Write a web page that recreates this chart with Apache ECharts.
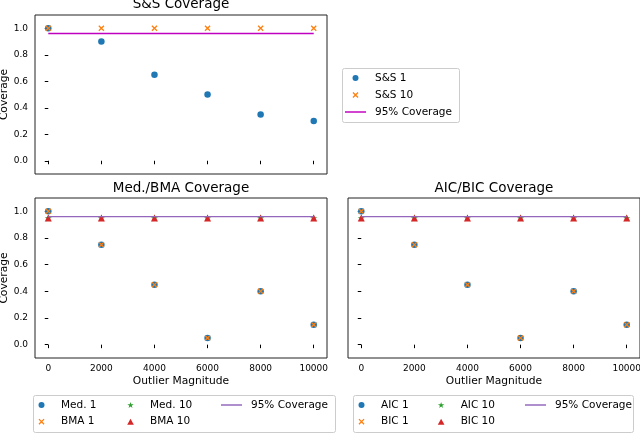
<!DOCTYPE html>
<html>
<head>
<meta charset="utf-8">
<script src="https://cdn.jsdelivr.net/npm/echarts@6/dist/echarts.min.js"></script>
<style>
html,body{margin:0;padding:0;background:#fff;}
#chart{width:640px;height:434px;}
</style>
</head>
<body>
<div id="chart"></div>
<script>
// ---- data ----
const magnitudes = [0, 2000, 4000, 6000, 8000, 10000];
const xTicks = [0, 2000, 4000, 6000, 8000, 10000];
const yTicks = [0, 0.2, 0.4, 0.6, 0.8, 1.0];
const ss1 = [1.0, 0.9, 0.65, 0.5, 0.35, 0.3];
const ss10 = [1.0, 1.0, 1.0, 1.0, 1.0, 1.0];
const med1 = [1.0, 0.75, 0.45, 0.05, 0.4, 0.15];
const bma1 = [1.0, 0.75, 0.45, 0.05, 0.4, 0.15];
const med10 = [0.95, 0.95, 0.95, 0.95, 0.95, 0.95];
const bma10 = [0.95, 0.95, 0.95, 0.95, 0.95, 0.95];
const aic1 = [1.0, 0.75, 0.45, 0.05, 0.4, 0.15];
const bic1 = [1.0, 0.75, 0.45, 0.05, 0.4, 0.15];
const aic10 = [0.95, 0.95, 0.95, 0.95, 0.95, 0.95];
const bic10 = [0.95, 0.95, 0.95, 0.95, 0.95, 0.95];
const lineX = [0, 10000];
const coverageLevel = [0.96, 0.96];
const titles = ['S&S Coverage', 'Med./BMA Coverage', 'AIC/BIC Coverage'];

// ---- styling helpers ----
const FONT = 'DejaVu Sans';
const C_BLUE = '#1f77b4', C_ORANGE = '#ff7f0e', C_GREEN = '#2ca02c', C_RED = '#d62728';
const C_MAGENTA = '#bf00bf', C_PURPLE = '#9467bd';
const X_PATH = 'path://M0,1.5L1.5,0L10,8.5L8.5,10Z M8.5,0L10,1.5L1.5,10L0,8.5Z';
const TRI_PATH = 'path://M5,0L10,9L0,9Z';
const LINE_PATH = 'path://M0,0H20V1.4H0Z';
function starPath() {
  const pts = [];
  for (let i = 0; i < 10; i++) {
    const r = i % 2 ? 0.382 : 1;
    const a = -Math.PI / 2 + i * Math.PI / 5;
    pts.push(((r * Math.cos(a)) * 10 + 10).toFixed(2) + ',' + ((r * Math.sin(a)) * 10 + 10).toFixed(2));
  }
  return 'path://M' + pts.join('L') + 'Z';
}
const STAR_PATH = starPath();
const zip = (xs, ys) => xs.map((x, i) => [x, ys[i]]);

const grids = [
  {left: 35, top: 15, width: 292, height: 159},
  {left: 35, top: 198, width: 292, height: 160},
  {left: 348, top: 198, width: 292, height: 160}
].map(g => Object.assign(g, {show: true, borderColor: '#222', borderWidth: 1, backgroundColor: 'transparent', containLabel: false, outerBoundsMode: 'none'}));

const tickStyle = {color: '#000', fontFamily: FONT, fontSize: 9};
function xAxis(i, showLabel, showName) {
  return {
    type: 'value', gridIndex: i, min: -500, max: 10500,
    splitLine: {show: false}, axisLine: {show: false},
    axisTick: {show: true, inside: false, length: 3.5, lineStyle: {color: '#000', width: 1}, customValues: xTicks},
    axisLabel: Object.assign({show: showLabel, margin: 6.5, customValues: xTicks, formatter: v => String(v)}, tickStyle),
    name: showName ? 'Outlier Magnitude' : '', nameLocation: 'middle', nameGap: 18,
    nameTextStyle: {fontFamily: FONT, fontSize: 10.7, color: '#000'}
  };
}
function yAxis(i, showLabel, showName) {
  return {
    type: 'value', gridIndex: i, min: -0.1, max: 1.1,
    splitLine: {show: false}, axisLine: {show: false},
    axisTick: {show: true, inside: false, length: 3.5, lineStyle: {color: '#000', width: 1}, customValues: yTicks},
    axisLabel: Object.assign({show: showLabel, margin: 7, customValues: yTicks, formatter: v => v.toFixed(1)}, tickStyle),
    name: showName ? 'Coverage' : '', nameLocation: 'middle', nameGap: 24,
    nameTextStyle: {fontFamily: FONT, fontSize: 10.7, color: '#000'}
  };
}
function scatter(name, gi, ys, symbol, color, size) {
  return {
    type: 'scatter', name: name, xAxisIndex: gi, yAxisIndex: gi,
    data: zip(magnitudes, ys), symbol: symbol, symbolSize: size,
    itemStyle: {color: color, opacity: 1}, silent: true
  };
}
function covLine(name, gi, color) {
  return {
    type: 'line', name: name, xAxisIndex: gi, yAxisIndex: gi,
    data: zip(lineX, coverageLevel), showSymbol: false, symbol: 'none',
    lineStyle: {color: color, width: 1.4}, itemStyle: {color: color}, silent: true, z: 3
  };
}

const series = [
  scatter('S&S 1', 0, ss1, 'circle', C_BLUE, 6.5),
  scatter('S&S 10', 0, ss10, X_PATH, C_ORANGE, 6),
  covLine('95% Coverage#a', 0, C_MAGENTA),
  scatter('Med. 1', 1, med1, 'circle', C_BLUE, 6.5),
  scatter('BMA 1', 1, bma1, X_PATH, C_ORANGE, 6),
  scatter('Med. 10', 1, med10, STAR_PATH, C_GREEN, 7),
  scatter('BMA 10', 1, bma10, TRI_PATH, C_RED, 7),
  covLine('95% Coverage#b', 1, C_PURPLE),
  scatter('AIC 1', 2, aic1, 'circle', C_BLUE, 6.5),
  scatter('BIC 1', 2, bic1, X_PATH, C_ORANGE, 6),
  scatter('AIC 10', 2, aic10, STAR_PATH, C_GREEN, 7),
  scatter('BIC 10', 2, bic10, TRI_PATH, C_RED, 7),
  covLine('95% Coverage#c', 2, C_PURPLE)
];

const legendText = {fontFamily: FONT, fontSize: 10.5, color: '#000', lineHeight: 13, padding: [0, 0, 0, 4]};
function legend(left, top, items, gap) {
  return {
    orient: 'vertical', left: left, top: top, padding: 0, itemGap: gap,
    itemWidth: 21, itemHeight: 6, selectedMode: false,
    textStyle: legendText, formatter: n => n.replace(/#.*$/, ''),
    data: items.map(it => ({name: it[0], icon: it[1]}))
  };
}
const legends = [
  legend(345, 71.5, [['S&S 1', 'circle'], ['S&S 10', X_PATH], ['95% Coverage#a', LINE_PATH]], 4),
  legend(38.5, 398.5, [['Med. 1', 'circle'], ['BMA 1', X_PATH]], 3.7),
  legend(127.2, 398.5, [['Med. 10', STAR_PATH], ['BMA 10', TRI_PATH]], 3.7),
  legend(221, 398.5, [['95% Coverage#b', LINE_PATH]], 3.7),
  legend(358.5, 398.5, [['AIC 1', 'circle'], ['BIC 1', X_PATH]], 3.7),
  legend(437.8, 398.5, [['AIC 10', STAR_PATH], ['BIC 10', TRI_PATH]], 3.7),
  legend(525, 398.5, [['95% Coverage#c', LINE_PATH]], 3.7)
];

const boxStyle = {fill: '#fff', stroke: '#cccccc', lineWidth: 1};
const graphic = [
  {type: 'rect', shape: {x: 342.5, y: 68.5, width: 117, height: 54, r: 2}, style: boxStyle, z: 1},
  {type: 'rect', shape: {x: 33.5, y: 395.5, width: 302, height: 37, r: 2}, style: boxStyle, z: 1},
  {type: 'rect', shape: {x: 353.5, y: 395.5, width: 280, height: 37, r: 2}, style: boxStyle, z: 1},
  {type: 'text', x: 181, y: 4, style: {text: titles[0], fontFamily: FONT, fontSize: 13.5, fill: '#000', textAlign: 'center', textVerticalAlign: 'middle'}, z: 5},
  {type: 'text', x: 181, y: 188.5, style: {text: titles[1], fontFamily: FONT, fontSize: 13.5, fill: '#000', textAlign: 'center', textVerticalAlign: 'middle'}, z: 5},
  {type: 'text', x: 494, y: 188.5, style: {text: titles[2], fontFamily: FONT, fontSize: 13.5, fill: '#000', textAlign: 'center', textVerticalAlign: 'middle'}, z: 5}
];

const chart = echarts.init(document.getElementById('chart'), null, {renderer: 'canvas'});
chart.setOption({
  animation: false,
  backgroundColor: '#fff',
  grid: grids,
  xAxis: [xAxis(0, false, false), xAxis(1, true, true), xAxis(2, true, true)],
  yAxis: [yAxis(0, true, true), yAxis(1, true, true), yAxis(2, false, false)],
  legend: legends,
  graphic: graphic,
  series: series
});
</script>
</body>
</html>
